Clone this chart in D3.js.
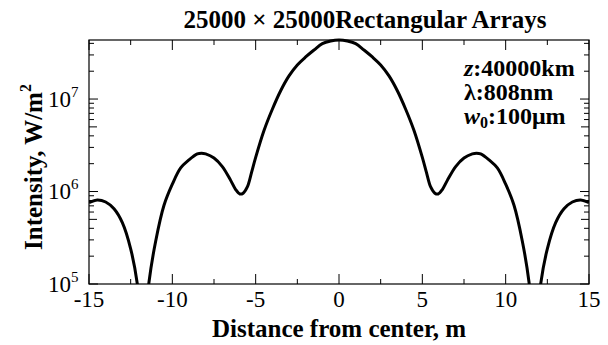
<!DOCTYPE html>
<html><head><meta charset="utf-8">
<script src="https://cdn.jsdelivr.net/npm/d3@7"></script>
<style>body{margin:0;background:#fff}svg{display:block}text{font-family:"Liberation Serif","Times New Roman",serif;fill:#000}</style>
</head><body><svg id="c" width="608" height="345"></svg>
<script>
const title = "25000 \u00d7 25000Rectangular Arrays";
const xLabel = "Distance from center, m";
const yLabel = "Intensity, W/m";
const xTicks = [-15, -10, -5, 0, 5, 10, 15];
const yTicks = [1e5, 1e6, 1e7];
const halfDistance = [0, 0.5, 1, 1.5, 2, 2.5, 3, 3.5, 4, 4.5, 5, 5.25, 5.5, 5.75, 5.95, 6.2, 6.5, 7, 7.5, 8, 8.25, 8.5, 9, 9.5, 10, 10.5, 11, 11.4, 11.75, 12.1, 12.5, 13, 13.5, 14, 14.5, 15];
const halfIntensity = [4.35e7, 4.25e7, 3.98e7, 3.39e7, 2.85e7, 2.34e7, 1.78e7, 1.23e7, 7.76e6, 4.57e6, 2.34e6, 1.6e6, 1.12e6, 9.6e5, 9.4e5, 1.05e6, 1.32e6, 1.86e6, 2.3e6, 2.55e6, 2.6e6, 2.55e6, 2.2e6, 1.8e6, 1.2e6, 7.1e5, 2.9e5, 1.05e5, 2e4, 1.0e5, 2.4e5, 4.6e5, 6.5e5, 7.7e5, 8.1e5, 7.6e5];

const data = [];
for (let i = halfDistance.length - 1; i > 0; i--) data.push([-halfDistance[i], halfIntensity[i]]);
for (let i = 0; i < halfDistance.length; i++) data.push([halfDistance[i], halfIntensity[i]]);

const svg = d3.select("#c");
const L = 89, R = 589, T = 40, B = 284;
const x = d3.scaleLinear().domain([-15, 15]).range([L, R]);
const y = d3.scaleLog().domain([1e5, 4.35e7]).range([B, T]);

svg.append("defs").append("clipPath").attr("id", "clip")
  .append("rect").attr("x", L).attr("y", T - 3).attr("width", R - L).attr("height", B - T + 3);

const yMinor = [];
for (let e = 5; e <= 7; e++) for (let m = 1; m <= 9; m++) { const v = m * Math.pow(10, e); if (v >= 1e5 && v <= 4.35e7) yMinor.push(v); }
const tickG = svg.append("g").attr("stroke", "#000").attr("stroke-width", 1);
yMinor.forEach(v => {
  const lead = Math.round(v / Math.pow(10, Math.floor(Math.log10(v) + 1e-9)));
  const len = lead === 1 ? 9 : (lead === 5 ? 8 : 5);
  tickG.append("line").attr("x1", L).attr("x2", L + len).attr("y1", y(v)).attr("y2", y(v));
  tickG.append("line").attr("x1", R).attr("x2", R - len).attr("y1", y(v)).attr("y2", y(v));
});
for (let v = -15; v <= 15; v += 2.5) {
  const len = (v % 5 === 0) ? 10 : 5;
  tickG.append("line").attr("x1", x(v)).attr("x2", x(v)).attr("y1", B).attr("y2", B - len);
  tickG.append("line").attr("x1", x(v)).attr("x2", x(v)).attr("y1", T).attr("y2", T + len);
}

svg.append("path").datum(data)
  .attr("clip-path", "url(#clip)")
  .attr("fill", "none").attr("stroke", "#000").attr("stroke-width", 3).attr("stroke-linejoin", "round")
  .attr("d", d3.line().x(d => x(d[0])).y(d => y(d[1])).curve(d3.curveCatmullRom));

svg.append("rect").attr("x", L).attr("y", T).attr("width", R - L).attr("height", B - T)
  .attr("fill", "none").attr("stroke", "#000").attr("stroke-width", 1.2);

svg.append("g").selectAll("text").data(xTicks).join("text")
  .attr("x", d => x(d)).attr("y", 307).attr("text-anchor", "middle").attr("font-size", 23)
  .text(d => d);

const yl = svg.append("g").selectAll("text").data(yTicks).join("text")
  .attr("x", 48).attr("y", d => y(d) + 7.5).attr("font-size", 23);
yl.append("tspan").text("10");
yl.append("tspan").attr("dy", -10).attr("font-size", 15).text(d => Math.round(Math.log10(d)));

svg.append("text").attr("x", 365).attr("y", 28).attr("text-anchor", "middle")
  .attr("font-size", 25).attr("font-weight", "bold").text(title);
svg.append("text").attr("x", 339).attr("y", 337).attr("text-anchor", "middle")
  .attr("font-size", 25).attr("font-weight", "bold").text(xLabel);
const yt = svg.append("text").attr("transform", "translate(42,167) rotate(-90)").attr("text-anchor", "middle")
  .attr("font-size", 25).attr("font-weight", "bold");
yt.append("tspan").text(yLabel);
yt.append("tspan").attr("dy", -11).attr("font-size", 16).text("2");

const ann = svg.append("g").attr("font-size", 24).attr("font-weight", "bold");
const a1 = ann.append("text").attr("x", 464).attr("y", 76);
a1.append("tspan").attr("font-style", "italic").text("z");
a1.append("tspan").text(":40000km");
const a2 = ann.append("text").attr("x", 464).attr("y", 100);
a2.append("tspan").text("\u03bb:808nm");
const a3 = ann.append("text").attr("x", 464).attr("y", 124);
a3.append("tspan").attr("font-style", "italic").text("w");
a3.append("tspan").attr("font-size", 16).attr("dy", 4).text("0");
a3.append("tspan").attr("dy", -4).text(":100\u03bcm");
</script></body></html>
